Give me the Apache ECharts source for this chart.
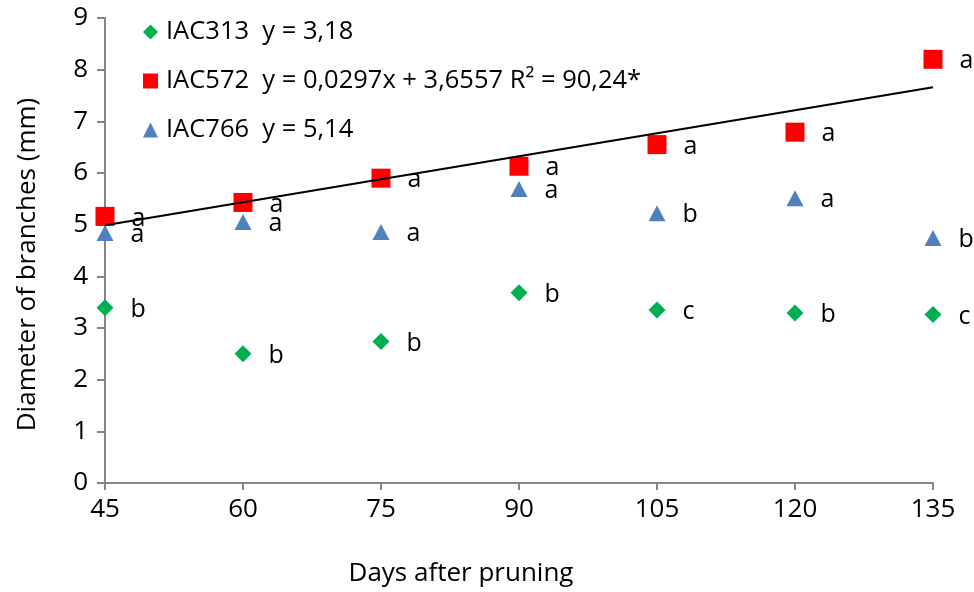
<!DOCTYPE html>
<html>
<head>
<meta charset="utf-8">
<script src="https://cdn.jsdelivr.net/npm/echarts@6/dist/echarts.min.js"></script>
<style>html,body{margin:0;padding:0;background:#fff}#c{width:974px;height:592px}</style>
</head>
<body>
<div id="c"></div>
<script>
const days = [45, 60, 75, 90, 105, 120, 135];
const iac313 = [3.39, 2.50, 2.74, 3.68, 3.35, 3.29, 3.26];
const iac572 = [5.16, 5.43, 5.90, 6.13, 6.55, 6.79, 8.20];
const iac766 = [4.84, 5.05, 4.86, 5.69, 5.22, 5.51, 4.74];
const letters313 = ['b', 'b', 'b', 'b', 'c', 'b', 'c'];
const letters572 = ['a', 'a', 'a', 'a', 'a', 'a', 'a'];
const letters766 = ['a', 'a', 'a', 'a', 'b', 'a', 'b'];
const trendDays = [45, 135];
const trendValues = [4.99, 7.66];
const names = ['IAC313  y = 3,18', 'IAC572  y = 0,0297x + 3,6557 R² = 90,24*', 'IAC766  y = 5,14'];
const yTicks = [0, 1, 2, 3, 4, 5, 6, 7, 8, 9];

const FONT = 'Open Sans';
function pts(vals, letters) { return days.map((d, i) => [d, vals[i], letters[i]]); }
function lbl() {
  return { show: true, position: 'right', distance: 17, offset: [0, 2], color: '#000', fontSize: 25, fontFamily: FONT,
    formatter: p => p.value[2] };
}
const chart = echarts.init(document.getElementById('c'), null, { renderer: 'canvas' });
chart.setOption({
  animation: false,
  backgroundColor: '#fff',
  grid: { left: 105, right: 41, top: 18, bottom: 109, containLabel: false },
  legend: {
    orient: 'vertical', left: 138, top: 14, itemGap: 23, itemWidth: 15, itemHeight: 15,
    textStyle: { fontSize: 25.5, fontFamily: FONT, color: '#000', padding: [0, 0, 0, 3] },
    data: [
      { name: names[0], icon: 'diamond', itemStyle: { color: '#00B050' } },
      { name: names[1], icon: 'rect', itemStyle: { color: '#FF0000' } },
      { name: names[2], icon: 'triangle', itemStyle: { color: '#4F81BD' } }
    ]
  },
  xAxis: {
    type: 'value', min: 45, max: 135, interval: 15,
    name: 'Days after pruning', nameLocation: 'middle', nameGap: 78,
    nameTextStyle: { fontSize: 26, fontFamily: FONT, color: '#000', padding: [0, 116, 0, 0] },
    axisLine: { show: true, lineStyle: { color: '#868686', width: 2 } },
    axisTick: { show: true, length: 7, lineStyle: { color: '#868686', width: 2 } },
    axisLabel: { fontSize: 26, fontFamily: FONT, color: '#000', margin: 14 },
    splitLine: { show: false }
  },
  yAxis: {
    type: 'value', min: yTicks[0], max: yTicks[yTicks.length - 1], interval: 1,
    name: 'Diameter of branches (mm)', nameLocation: 'middle', nameGap: 64,
    nameTextStyle: { fontSize: 26, fontFamily: FONT, color: '#000', padding: [0, 28, 0, 0] },
    axisLine: { show: true, lineStyle: { color: '#868686', width: 2 } },
    axisTick: { show: true, length: 8, lineStyle: { color: '#868686', width: 2 } },
    axisLabel: { fontSize: 26, fontFamily: FONT, color: '#000', margin: 17 },
    splitLine: { show: false }
  },
  series: [
    { name: names[0], type: 'scatter', symbol: 'diamond', symbolSize: 17,
      itemStyle: { color: '#00B050', opacity: 1 }, data: pts(iac313, letters313), label: lbl(), z: 2 },
    { name: names[2], type: 'scatter', symbol: 'triangle', symbolSize: [17, 16],
      itemStyle: { color: '#4F81BD', opacity: 1 }, data: pts(iac766, letters766), label: lbl(), z: 2 },
    { name: names[1], type: 'scatter', symbol: 'rect', symbolSize: 19,
      itemStyle: { color: '#FF0000', opacity: 1 }, data: pts(iac572, letters572), label: lbl(), z: 3 },
    { name: 'trend', type: 'line', symbol: 'none', z: 4,
      lineStyle: { color: '#000', width: 2 },
      data: trendDays.map((d, i) => [d, trendValues[i]]) }
  ]
});
</script>
</body>
</html>
